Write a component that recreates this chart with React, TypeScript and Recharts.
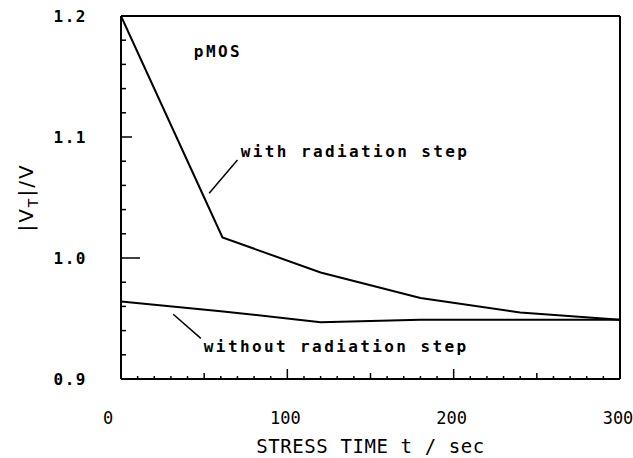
import { LineChart, Line, XAxis, YAxis, ReferenceLine, ReferenceDot } from "recharts";

// stress time (s) and |VT| (V)
const withTimes = [0, 50, 61, 120, 180, 240, 300];
const withValues = [1.2, 1.05, 1.017, 0.988, 0.967, 0.955, 0.949];
const withoutTimes = [0, 60, 120, 180, 240, 300];
const withoutValues = [0.964, 0.956, 0.947, 0.949, 0.949, 0.949];

const xTicks = [0, 10, 20, 30, 40, 50, 60, 70, 80, 90, 100, 110, 120, 130, 140, 150, 160, 170, 180, 190, 200, 210, 220, 230, 240, 250, 260, 270, 280, 290, 300];
const xLabels = [0, 100, 200, 300];
const yTicks = [0.9, 0.92, 0.94, 0.96, 0.98, 1.0, 1.02, 1.04, 1.06, 1.08, 1.1, 1.12, 1.14, 1.16, 1.18, 1.2];
const yLabels = [0.9, 1.0, 1.1, 1.2];

const withData = withTimes.map((t, i) => ({ t, v: withValues[i] }));
const withoutData = withoutTimes.map((t, i) => ({ t, v: withoutValues[i] }));

const MONO = "'DejaVu Sans Mono', monospace";

function XTick({ x, y, payload }: any) {
  const v = payload.value;
  const major = xLabels.includes(v);
  const len = major ? 10 : v % 50 === 0 ? 6 : 3;
  return (
    <g>
      {v > 0 && v < 300 && <line x1={x} x2={x} y1={y} y2={y - len} stroke="#000" strokeWidth={1.5} />}
      {major && (
        <text x={x + (v === 0 ? -13 : -2)} y={y + 45} textAnchor="middle" fontFamily={MONO} fontSize={17} fill="#000">
          {v}
        </text>
      )}
    </g>
  );
}

function YTick({ x, y, payload }: any) {
  const v = payload.value;
  const major = yLabels.some((m) => Math.abs(m - v) < 1e-6);
  const len = Math.abs(v - 1.0) < 1e-6 ? 19 : major ? 11 : 5;
  return (
    <g>
      {v > 0.901 && v < 1.199 && <line x1={x} x2={x + len} y1={y} y2={y} stroke="#000" strokeWidth={1.5} />}
      {major && (
        <text x={x - 34} y={y + 6} textAnchor="end" fontFamily={MONO} fontWeight="bold" fontSize={16} letterSpacing={1.5} fill="#000">
          {v.toFixed(1)}
        </text>
      )}
    </g>
  );
}

function Note({ viewBox, text }: any) {
  return (
    <text x={viewBox.x} y={viewBox.y} fontFamily={MONO} fontWeight="bold" fontSize={16} letterSpacing={2.4} fill="#000">
      {text}
    </text>
  );
}

function YTitle({ viewBox }: any) {
  const cx = 33;
  const cy = viewBox.y + viewBox.height / 2;
  return (
    <text x={cx} y={cy} transform={`rotate(-90 ${cx} ${cy})`} textAnchor="middle" fontFamily="'DejaVu Sans', sans-serif" fontSize={20} letterSpacing={2} fill="#000">
      |V<tspan dy={5} fontSize={14}>T</tspan>
      <tspan dy={-5}>|/V</tspan>
    </text>
  );
}

function XTitle({ viewBox }: any) {
  return (
    <text x={viewBox.x + viewBox.width / 2} y={453} textAnchor="middle" fontFamily={MONO} fontSize={19} letterSpacing={0.6} fill="#000">
      STRESS TIME t / sec
    </text>
  );
}

export default function App() {
  return (
    <div style={{ position: "absolute", left: 0, top: 0, background: "#fff" }}>
      <LineChart width={633} height={458} margin={{ top: 16, right: 13, bottom: 0, left: 0 }}>
        <XAxis
          dataKey="t"
          type="number"
          domain={[0, 300]}
          ticks={xTicks}
          interval={0}
          tickSize={0}
          tickMargin={0}
          tickLine={false}
          height={79}
          axisLine={{ stroke: "#000", strokeWidth: 2 }}
          tick={<XTick />}
          label={<XTitle />}
          allowDataOverflow
        />
        <YAxis
          type="number"
          domain={[0.9, 1.2]}
          ticks={yTicks}
          interval={0}
          tickSize={0}
          tickMargin={0}
          tickLine={false}
          width={121}
          axisLine={{ stroke: "#000", strokeWidth: 2 }}
          tick={<YTick />}
          label={<YTitle />}
          allowDataOverflow
        />
        <ReferenceLine y={1.2} stroke="#000" strokeWidth={2} />
        <ReferenceLine x={300} stroke="#000" strokeWidth={2} />
        <Line data={withData} dataKey="v" type="linear" stroke="#000" strokeWidth={2} dot={false} isAnimationActive={false} />
        <Line data={withoutData} dataKey="v" type="linear" stroke="#000" strokeWidth={2} dot={false} isAnimationActive={false} />
        <ReferenceLine segment={[{ x: 70, y: 1.081 }, { x: 53, y: 1.0535 }]} stroke="#000" strokeWidth={1.5} />
        <ReferenceLine segment={[{ x: 31.4, y: 0.9535 }, { x: 48, y: 0.9336 }]} stroke="#000" strokeWidth={1.5} />
        <ReferenceDot x={43.8} y={1.166} r={0} stroke="none" label={<Note text="pMOS" />} />
        <ReferenceDot x={72} y={1.0837} r={0} stroke="none" label={<Note text="with radiation step" />} />
        <ReferenceDot x={49.8} y={0.9223} r={0} stroke="none" label={<Note text="without radiation step" />} />
      </LineChart>
    </div>
  );
}
